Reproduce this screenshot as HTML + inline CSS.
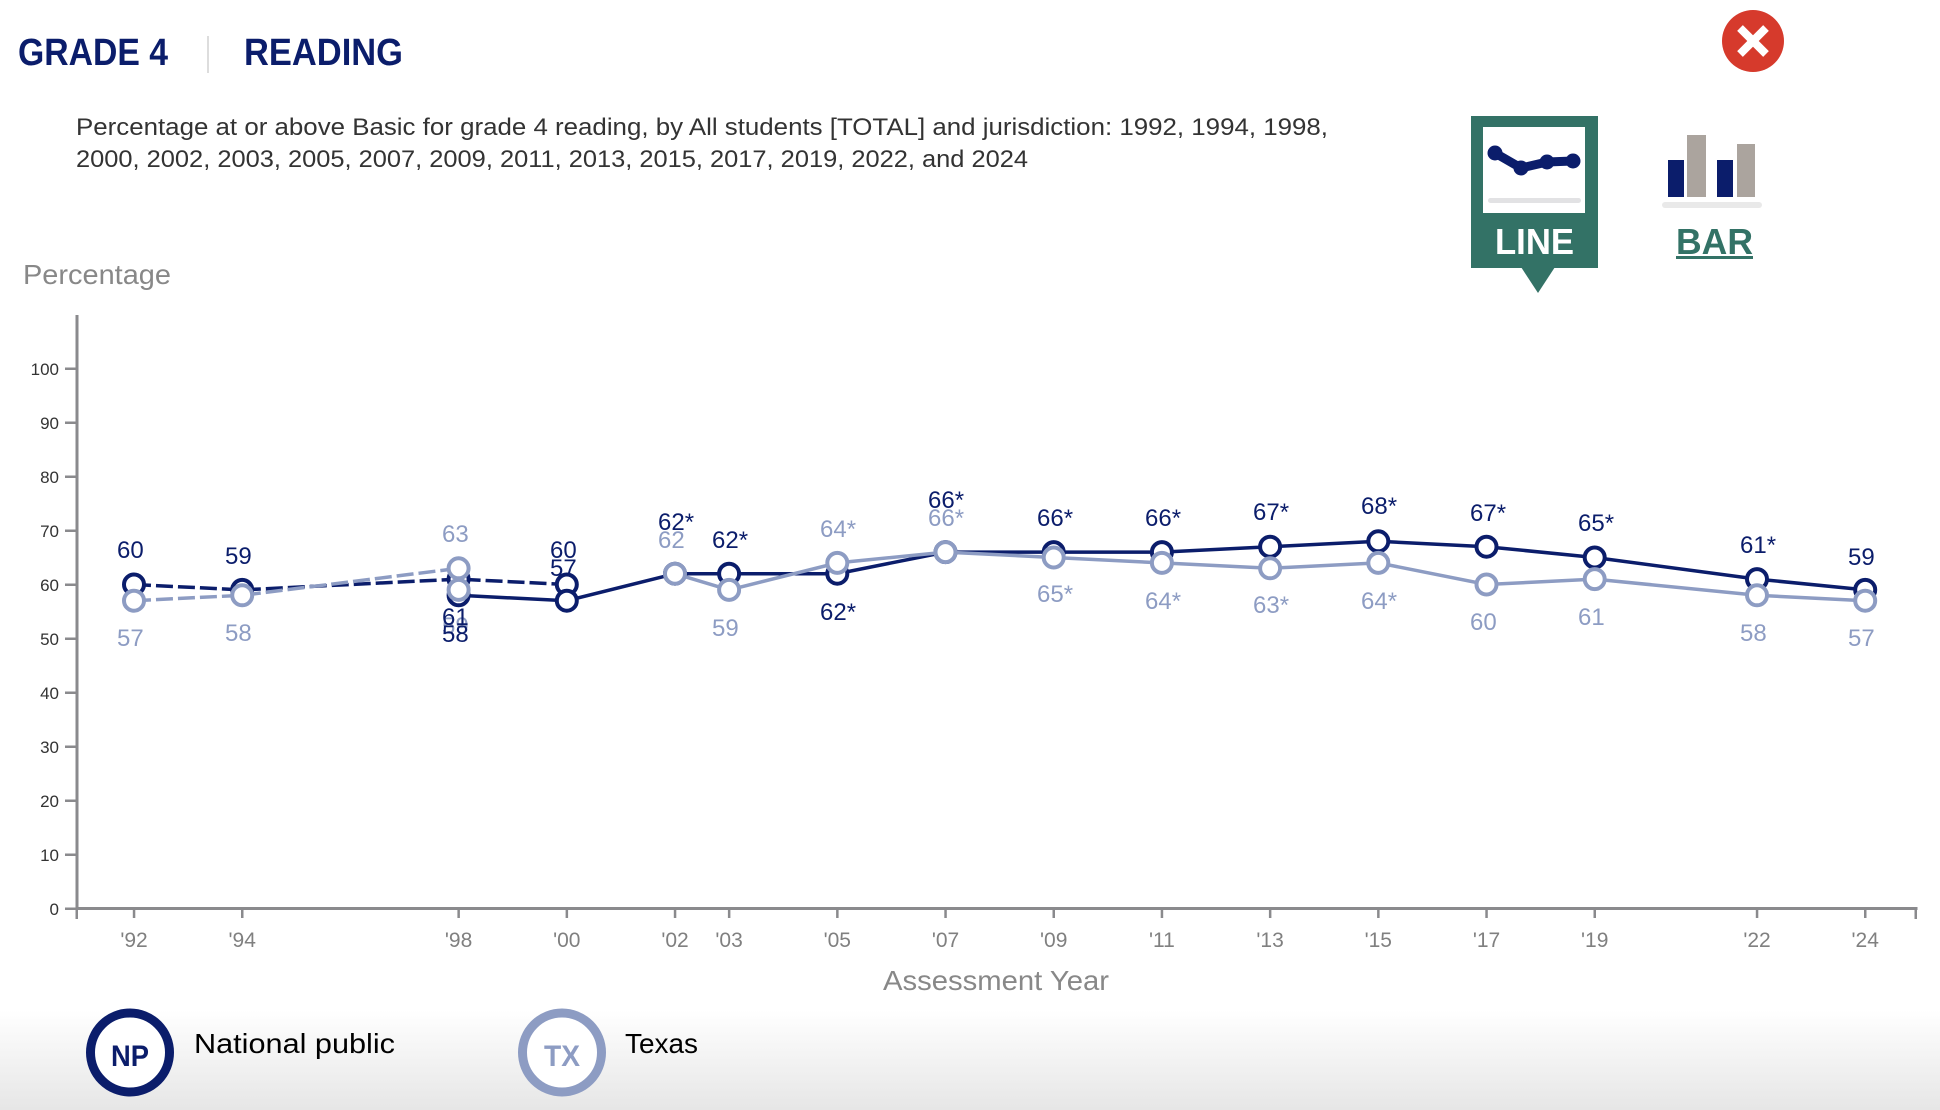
<!DOCTYPE html>
<html>
<head>
<meta charset="utf-8">
<style>
  html, body { margin: 0; padding: 0; background: #ffffff; }
  body { width: 1940px; height: 1110px; overflow: hidden; }
  svg { display: block; }
  text { font-family: "Liberation Sans", Arial, sans-serif; }
</style>
</head>
<body>
<svg width="1940" height="1110" viewBox="0 0 1940 1110" xmlns="http://www.w3.org/2000/svg">
  <defs>
    <linearGradient id="bg" x1="0" y1="0" x2="0" y2="1">
      <stop offset="0" stop-color="#ffffff"/>
      <stop offset="1" stop-color="#e6e6e6"/>
    </linearGradient>
  </defs>
  <rect x="0" y="0" width="1940" height="1110" fill="#ffffff"/>
  <rect x="0" y="1010" width="1940" height="100" fill="url(#bg)"/>

  <!-- Title -->
  <text x="18" y="65" font-size="38" font-weight="bold" fill="#0b1d6b" textLength="150" lengthAdjust="spacingAndGlyphs">GRADE 4</text>
  <rect x="207" y="36" width="2" height="37" fill="#dddddd"/>
  <text x="244" y="65" font-size="38" font-weight="bold" fill="#0b1d6b" textLength="159" lengthAdjust="spacingAndGlyphs">READING</text>

  <!-- Subtitle -->
  <text x="76" y="135" font-size="24" fill="#333333" textLength="1252" lengthAdjust="spacingAndGlyphs">Percentage at or above Basic for grade 4 reading, by All students [TOTAL] and jurisdiction: 1992, 1994, 1998,</text>
  <text x="76" y="167" font-size="24" fill="#333333" textLength="952" lengthAdjust="spacingAndGlyphs">2000, 2002, 2003, 2005, 2007, 2009, 2011, 2013, 2015, 2017, 2019, 2022, and 2024</text>

  <!-- Close button -->
  <circle cx="1753" cy="41" r="31" fill="#d63a2c"/>
  <line x1="1740" y1="28" x2="1766" y2="54" stroke="#ffffff" stroke-width="8"/>
  <line x1="1766" y1="28" x2="1740" y2="54" stroke="#ffffff" stroke-width="8"/>

  <!-- LINE button -->
  <rect x="1471" y="116" width="127" height="152" fill="#337266"/>
  <polygon points="1521,267 1555,267 1538,293" fill="#337266"/>
  <rect x="1483" y="127" width="102" height="86" fill="#ffffff"/>
  <polyline points="1495,153 1521,168 1547,162 1573,161" fill="none" stroke="#0b1d6b" stroke-width="9" stroke-linejoin="round"/>
  <circle cx="1495" cy="153" r="7.5" fill="#0b1d6b"/>
  <circle cx="1521" cy="168" r="7.5" fill="#0b1d6b"/>
  <circle cx="1547" cy="162" r="7.5" fill="#0b1d6b"/>
  <circle cx="1573" cy="161" r="7.5" fill="#0b1d6b"/>
  <rect x="1488" y="198" width="93" height="5" rx="2.5" fill="#e2e2e4"/>
  <text x="1495" y="254" font-size="36" font-weight="bold" fill="#ffffff" textLength="79" lengthAdjust="spacingAndGlyphs">LINE</text>

  <!-- BAR button -->
  <rect x="1662" y="202" width="100" height="6" rx="3" fill="#e9e9e9"/>
  <rect x="1668" y="160" width="16" height="37" fill="#0b1d6b"/>
  <rect x="1687" y="135" width="19" height="62" fill="#aba49e"/>
  <rect x="1717" y="160" width="16" height="37" fill="#0b1d6b"/>
  <rect x="1737" y="144" width="18" height="53" fill="#aba49e"/>
  <text x="1676" y="254" font-size="36" font-weight="bold" fill="#337266" textLength="77" lengthAdjust="spacingAndGlyphs">BAR</text>
  <rect x="1676" y="256" width="77" height="3" fill="#337266"/>

  <!-- Y axis title -->
  <text x="23" y="284" font-size="28" fill="#888888" textLength="148" lengthAdjust="spacingAndGlyphs">Percentage</text>

  <!-- Axes -->
  <rect x="75.5" y="315" width="3" height="595" fill="#8a8a8d"/>
  <rect x="75.5" y="907" width="1842" height="3" fill="#8a8a8d"/>
  <g fill="#8a8a8d">
    <rect x="65" y="367.5" width="11" height="2.5"/>
    <rect x="65" y="421.5" width="11" height="2.5"/>
    <rect x="65" y="475.5" width="11" height="2.5"/>
    <rect x="65" y="529.5" width="11" height="2.5"/>
    <rect x="65" y="583.5" width="11" height="2.5"/>
    <rect x="65" y="637.5" width="11" height="2.5"/>
    <rect x="65" y="691.5" width="11" height="2.5"/>
    <rect x="65" y="745.5" width="11" height="2.5"/>
    <rect x="65" y="799.5" width="11" height="2.5"/>
    <rect x="65" y="853.5" width="11" height="2.5"/>
    <rect x="65" y="907.5" width="11" height="2.5"/>
  </g>
  <g font-size="17" fill="#333333" text-anchor="end">
    <text x="59" y="375">100</text>
    <text x="59" y="429">90</text>
    <text x="59" y="483">80</text>
    <text x="59" y="537">70</text>
    <text x="59" y="591">60</text>
    <text x="59" y="645">50</text>
    <text x="59" y="699">40</text>
    <text x="59" y="753">30</text>
    <text x="59" y="807">20</text>
    <text x="59" y="861">10</text>
    <text x="59" y="915">0</text>
  </g>

  <!-- X ticks -->
  <g fill="#8a8a8d">
    <rect x="75.5" y="908" width="2.5" height="11"/>
    <rect x="1914.5" y="908" width="2.5" height="11"/>
    <rect x="132.8" y="908" width="2.5" height="10"/>
    <rect x="241" y="908" width="2.5" height="10"/>
    <rect x="457.4" y="908" width="2.5" height="10"/>
    <rect x="565.6" y="908" width="2.5" height="10"/>
    <rect x="673.8" y="908" width="2.5" height="10"/>
    <rect x="727.9" y="908" width="2.5" height="10"/>
    <rect x="836.1" y="908" width="2.5" height="10"/>
    <rect x="944.3" y="908" width="2.5" height="10"/>
    <rect x="1052.5" y="908" width="2.5" height="10"/>
    <rect x="1160.7" y="908" width="2.5" height="10"/>
    <rect x="1268.9" y="908" width="2.5" height="10"/>
    <rect x="1377.1" y="908" width="2.5" height="10"/>
    <rect x="1485.3" y="908" width="2.5" height="10"/>
    <rect x="1593.5" y="908" width="2.5" height="10"/>
    <rect x="1755.8" y="908" width="2.5" height="10"/>
    <rect x="1864" y="908" width="2.5" height="10"/>
  </g>
  <g font-size="21" fill="#808080" text-anchor="middle">
    <text x="134" y="947">'92</text>
    <text x="242.2" y="947">'94</text>
    <text x="458.6" y="947">'98</text>
    <text x="566.8" y="947">'00</text>
    <text x="675" y="947">'02</text>
    <text x="729.1" y="947">'03</text>
    <text x="837.3" y="947">'05</text>
    <text x="945.5" y="947">'07</text>
    <text x="1053.7" y="947">'09</text>
    <text x="1161.9" y="947">'11</text>
    <text x="1270.1" y="947">'13</text>
    <text x="1378.3" y="947">'15</text>
    <text x="1486.5" y="947">'17</text>
    <text x="1594.7" y="947">'19</text>
    <text x="1757" y="947">'22</text>
    <text x="1865.2" y="947">'24</text>
  </g>
  <text x="883" y="990" font-size="28" fill="#888888" textLength="226" lengthAdjust="spacingAndGlyphs">Assessment Year</text>

  <!-- National public lines -->
  <polyline points="134,584.5 242.2,589.9 458.6,579.1 566.8,584.5" fill="none" stroke="#0b1d6b" stroke-width="3.5" stroke-dasharray="17,5"/>
  <polyline points="458.6,595.3 566.8,600.7 675,573.7 729.1,573.7 837.3,573.7 945.5,552.1 1053.7,552.1 1161.9,552.1 1270.1,546.7 1378.3,541.3 1486.5,546.7 1594.7,557.5 1757,579.1 1865.2,589.9" fill="none" stroke="#0b1d6b" stroke-width="3.5"/>
  <g fill="#ffffff" stroke="#0b1d6b" stroke-width="4">
    <circle cx="134" cy="584.5" r="10"/>
    <circle cx="242.2" cy="589.9" r="10"/>
    <circle cx="458.6" cy="579.1" r="10"/>
    <circle cx="566.8" cy="584.5" r="10"/>
    <circle cx="458.6" cy="595.3" r="10"/>
    <circle cx="566.8" cy="600.7" r="10"/>
    <circle cx="675" cy="573.7" r="10"/>
    <circle cx="729.1" cy="573.7" r="10"/>
    <circle cx="837.3" cy="573.7" r="10"/>
    <circle cx="945.5" cy="552.1" r="10"/>
    <circle cx="1053.7" cy="552.1" r="10"/>
    <circle cx="1161.9" cy="552.1" r="10"/>
    <circle cx="1270.1" cy="546.7" r="10"/>
    <circle cx="1378.3" cy="541.3" r="10"/>
    <circle cx="1486.5" cy="546.7" r="10"/>
    <circle cx="1594.7" cy="557.5" r="10"/>
    <circle cx="1757" cy="579.1" r="10"/>
    <circle cx="1865.2" cy="589.9" r="10"/>
  </g>

  <!-- Texas lines -->
  <polyline points="134,600.7 242.2,595.3 458.6,568.3" fill="none" stroke="#8d9cc3" stroke-width="3.5" stroke-dasharray="17,5"/>
  <polyline points="675,573.7 729.1,589.9 837.3,562.9 945.5,552.1 1053.7,557.5 1161.9,562.9 1270.1,568.3 1378.3,562.9 1486.5,584.5 1594.7,579.1 1757,595.3 1865.2,600.7" fill="none" stroke="#8d9cc3" stroke-width="3.5"/>
  <g fill="#ffffff" stroke="#8d9cc3" stroke-width="4">
    <circle cx="134" cy="600.7" r="10"/>
    <circle cx="242.2" cy="595.3" r="10"/>
    <circle cx="458.6" cy="568.3" r="10"/>
    <circle cx="458.6" cy="589.9" r="10"/>
    <circle cx="675" cy="573.7" r="10"/>
    <circle cx="729.1" cy="589.9" r="10"/>
    <circle cx="837.3" cy="562.9" r="10"/>
    <circle cx="945.5" cy="552.1" r="10"/>
    <circle cx="1053.7" cy="557.5" r="10"/>
    <circle cx="1161.9" cy="562.9" r="10"/>
    <circle cx="1270.1" cy="568.3" r="10"/>
    <circle cx="1378.3" cy="562.9" r="10"/>
    <circle cx="1486.5" cy="584.5" r="10"/>
    <circle cx="1594.7" cy="579.1" r="10"/>
    <circle cx="1757" cy="595.3" r="10"/>
    <circle cx="1865.2" cy="600.7" r="10"/>
  </g>

  <!-- Texas labels -->
  <g font-size="24" fill="#8d9cc3">
    <text x="117" y="646">57</text>
    <text x="225" y="641">58</text>
    <text x="442" y="542">63</text>
    <text x="442" y="634">59</text>
    <text x="658" y="548">62</text>
    <text x="712" y="636">59</text>
    <text x="820" y="537">64*</text>
    <text x="928" y="526">66*</text>
    <text x="1037" y="602">65*</text>
    <text x="1145" y="609">64*</text>
    <text x="1253" y="613">63*</text>
    <text x="1361" y="609">64*</text>
    <text x="1470" y="630">60</text>
    <text x="1578" y="625">61</text>
    <text x="1740" y="641">58</text>
    <text x="1848" y="646">57</text>
  </g>

  <!-- National public labels -->
  <g font-size="24" fill="#0b1d6b">
    <text x="117" y="558">60</text>
    <text x="225" y="564">59</text>
    <text x="442" y="625">61</text>
    <text x="442" y="642">58</text>
    <text x="550" y="558">60</text>
    <text x="550" y="576">57</text>
    <text x="658" y="530">62*</text>
    <text x="712" y="548">62*</text>
    <text x="820" y="620">62*</text>
    <text x="928" y="508">66*</text>
    <text x="1037" y="526">66*</text>
    <text x="1145" y="526">66*</text>
    <text x="1253" y="520">67*</text>
    <text x="1361" y="514">68*</text>
    <text x="1470" y="521">67*</text>
    <text x="1578" y="531">65*</text>
    <text x="1740" y="553">61*</text>
    <text x="1848" y="565">59</text>
  </g>

  <!-- Legend -->
  <circle cx="130" cy="1052.5" r="39.5" fill="#ffffff" stroke="#0b1d6b" stroke-width="9"/>
  <text x="130" y="1066" font-size="30" font-weight="bold" fill="#0b1d6b" text-anchor="middle" textLength="38" lengthAdjust="spacingAndGlyphs">NP</text>
  <text x="194" y="1053" font-size="28" fill="#000000" textLength="201" lengthAdjust="spacingAndGlyphs">National public</text>

  <circle cx="562" cy="1052.5" r="39.5" fill="#ffffff" stroke="#8d9cc3" stroke-width="9"/>
  <text x="562" y="1066" font-size="30" font-weight="bold" fill="#8d9cc3" text-anchor="middle" textLength="36" lengthAdjust="spacingAndGlyphs">TX</text>
  <text x="625" y="1053" font-size="28" fill="#000000" textLength="73" lengthAdjust="spacingAndGlyphs">Texas</text>
</svg>
</body>
</html>
